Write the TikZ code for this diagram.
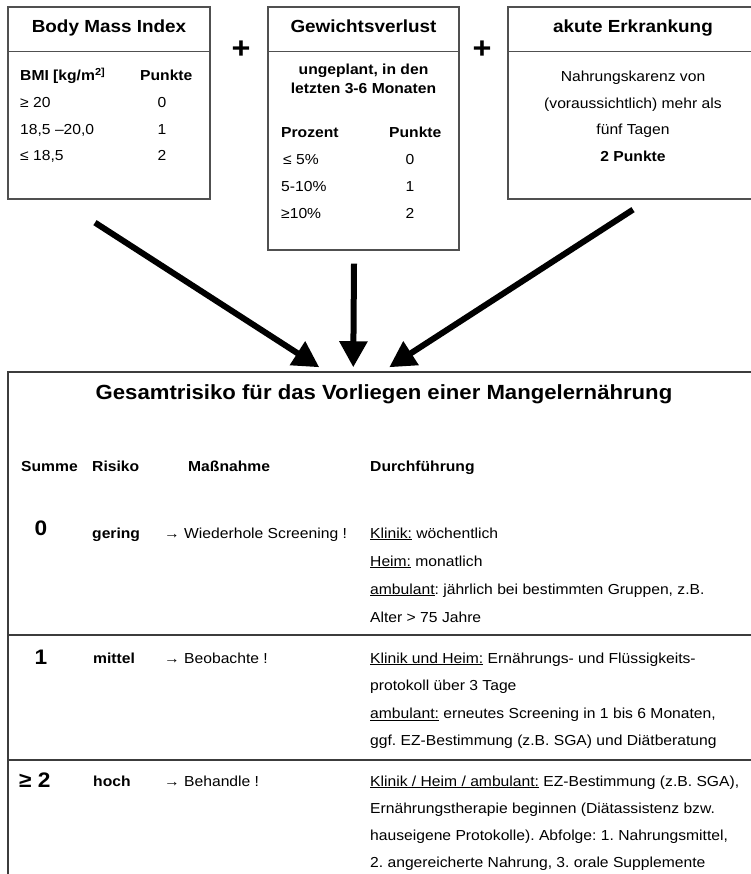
\documentclass[tikz,border=0pt]{standalone}
\usepackage{fontspec}
\setmainfont{Liberation Sans}[FakeStretch=1.08]
\usetikzlibrary{positioning, arrows.meta, calc}
\usepackage{xcolor}
\definecolor{rahmen}{HTML}{505050}
\definecolor{linie}{HTML}{3C3C3C}
\frenchspacing

\begin{document}
\begin{tikzpicture}[x=1pt, y=-1pt, inner sep=0pt,
    font=\fontsize{14.5}{28}\selectfont,
    kasten/.style={draw=rahmen, line width=1.3pt},
    kopf/.style={font=\fontsize{17.5}{20}\selectfont\bfseries, anchor=base},
    fett/.style={font=\fontsize{14.5}{28}\selectfont\bfseries, anchor=base west},
    txt/.style={anchor=base west},
    wert/.style={anchor=base},
    zahl/.style={font=\fontsize{21}{24}\selectfont\bfseries, anchor=base},
    plus/.style={font=\fontsize{30}{30}\selectfont\bfseries},
    pfeil/.style={line width=6pt, -{Triangle[length=26pt,width=27pt]}}]
  \useasboundingbox (0,0) rectangle (750,874);

  % Kaesten oben
  \node[kasten, minimum width=202pt, minimum height=192pt] (bmi) at (109,103) {};
  \node[kasten, minimum width=191pt, minimum height=243pt] (gew) at (363.5,128.5) {};
  \node[kasten, minimum width=258pt, minimum height=192pt] (akut) at (637,103) {};
  \foreach \k in {bmi, gew, akut}
    \draw[rahmen, line width=1.3pt] ($(\k.north west)+(0,45.5)$) -- ($(\k.north east)+(0,45.5)$);

  \node[kopf] (bmik) at (109,33) {Body Mass Index};
  \node[kopf] (gewk) at (363.5,33) {Gewichtsverlust};
  \node[kopf] (akutk) at (633,33) {akute Erkrankung};
  \node[plus] (p1) at (241,50) {+};
  \node[plus] (p2) at (482,50) {+};

  % Body Mass Index
  \node[fett] (bmih) at (20,81) {BMI [kg/m\textsuperscript{2]}};
  \node[fett] (bmip) at (140,81) {Punkte};
  \node[txt] (b1) at (20,108) {≥ 20};
  \node[txt] (b2) at (20,135) {18,5 –20,0};
  \node[txt] (b3) at (20,161) {≤ 18,5};
  \node[wert] (b1p) at (162,108) {0};
  \node[wert] (b2p) at (162,135) {1};
  \node[wert] (b3p) at (162,161) {2};

  % Gewichtsverlust
  \node[anchor=base, font=\fontsize{14.5}{19}\selectfont\bfseries] (ungep) at (363.5,75)
    {\begin{tabular}[t]{@{}c@{}}ungeplant, in den\\letzten 3-6 Monaten\end{tabular}};
  \node[fett] (proz) at (281,138) {Prozent};
  \node[fett] (gewp) at (389,138) {Punkte};
  \node[txt] (g1) at (283,165) {≤ 5\%};
  \node[txt] (g2) at (281,192) {5-10\%};
  \node[txt] (g3) at (281,219) {≥10\%};
  \node[wert] (g1p) at (410,165) {0};
  \node[wert] (g2p) at (410,192) {1};
  \node[wert] (g3p) at (410,219) {2};

  % akute Erkrankung
  \node[anchor=base, font=\fontsize{14.5}{26.4}\selectfont] (karenz) at (633,82)
    {\begin{tabular}[t]{@{}c@{}}Nahrungskarenz von\\(voraussichtlich) mehr als\\fünf Tagen\\\textbf{2 Punkte}\end{tabular}};

  % Gesamtrisiko
  \node[kasten, draw=linie, line width=1.5pt, minimum width=758pt, minimum height=518pt] (risk) at (387,631) {};
  \draw[linie, line width=1.6pt] (risk.west |- 0,635) -- (risk.east |- 0,635);
  \draw[linie, line width=1.6pt] (risk.west |- 0,760) -- (risk.east |- 0,760);
  \node[font=\fontsize{20.5}{24}\selectfont\bfseries, anchor=base] (titel) at (384,399)
    {Gesamtrisiko für das Vorliegen einer Mangelernährung};

  \node[fett] (summe) at (21,471) {Summe};
  \node[fett] (risiko) at (92,471) {Risiko};
  \node[fett] (massn) at (188,471) {Maßnahme};
  \node[fett] (durchf) at (370,471) {Durchführung};

  % Zeile 0
  \node[zahl] (s0) at (41,535) {0};
  \node[fett] (r0) at (92,538) {gering};
  \node[txt] (m0) at (164,538) {→ Wiederhole Screening !};
  \node[txt] (d0) at (370,538) {\begin{tabular}[t]{@{}l@{}}
    \underline{Klinik:} wöchentlich\\
    \underline{Heim:} monatlich\\
    \underline{ambulant}: jährlich bei bestimmten Gruppen, z.B.\\
    Alter > 75 Jahre\end{tabular}};

  % Zeile 1
  \node[zahl] (s1) at (41,664) {1};
  \node[fett] (r1) at (93,663) {mittel};
  \node[txt] (m1) at (164,663) {→ Beobachte !};
  \node[txt, font=\fontsize{14.5}{27.6}\selectfont] (d1) at (370,663) {\begin{tabular}[t]{@{}l@{}}
    \underline{Klinik und Heim:} Ernährungs- und Flüssigkeits-\\
    protokoll über 3 Tage\\
    \underline{ambulant:} erneutes Screening in 1 bis 6 Monaten,\\
    ggf. EZ-Bestimmung (z.B. SGA) und Diätberatung\end{tabular}};

  % Zeile 2
  \node[zahl, anchor=base west] (s2) at (19,787) {≥ 2};
  \node[fett] (r2) at (93,786) {hoch};
  \node[txt] (m2) at (164,786) {→ Behandle !};
  \node[txt, font=\fontsize{14.5}{27.3}\selectfont] (d2) at (370,786) {\begin{tabular}[t]{@{}l@{}}
    \underline{Klinik / Heim / ambulant:} EZ-Bestimmung (z.B. SGA),\\
    Ernährungstherapie beginnen (Diätassistenz bzw.\\
    hauseigene Protokolle). Abfolge: 1. Nahrungsmittel,\\
    2. angereicherte Nahrung, 3. orale Supplemente\end{tabular}};

  % Pfeile
  \draw[pfeil] ($(bmi.south)+(-14,23)$) -- ($(risk.north west)+(312,-4)$);
  \draw[pfeil] ($(gew.south)+(-9.5,13)$) -- ($(risk.north west)+(346,-4)$);
  \draw[pfeil] ($(akut.south)+(-4,10)$) -- ($(risk.north west)+(382,-4)$);
\end{tikzpicture}
\end{document}
